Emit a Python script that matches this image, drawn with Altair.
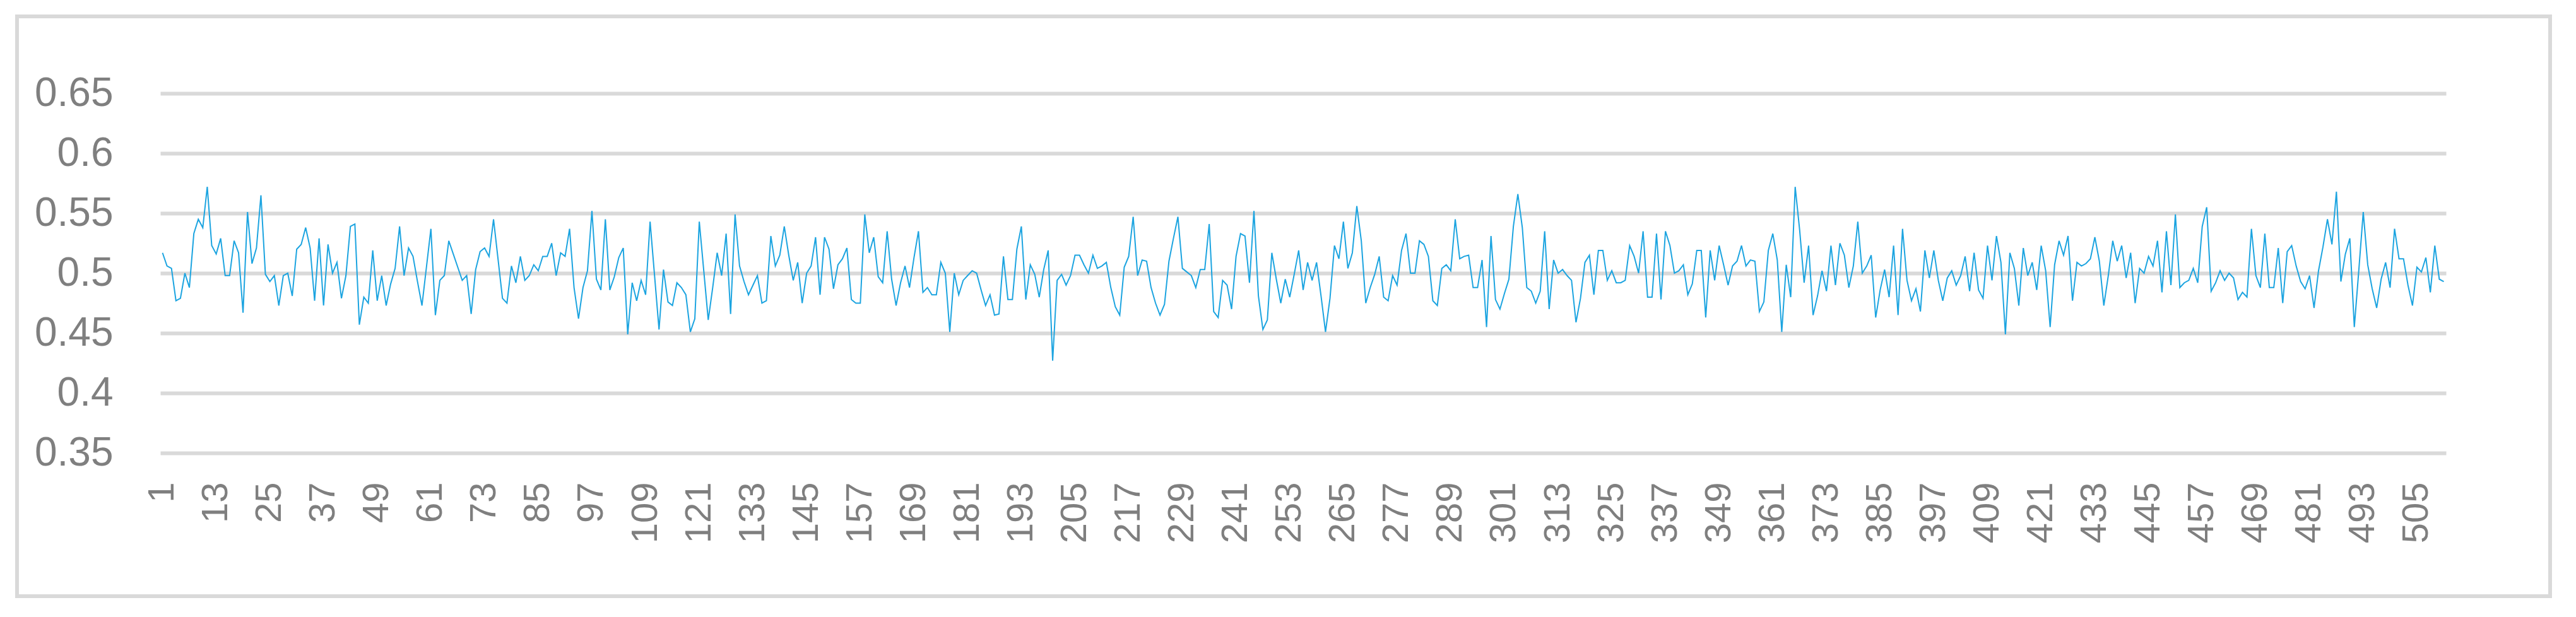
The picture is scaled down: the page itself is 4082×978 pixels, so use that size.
import altair as alt
import pandas as pd

# Series values, in order of category 1..511
vals_001_050 = [0.517, 0.506, 0.504, 0.477, 0.479, 0.500, 0.488, 0.533, 0.545, 0.538,
                0.572, 0.523, 0.516, 0.529, 0.498, 0.498, 0.527, 0.517, 0.467, 0.551,
                0.508, 0.521, 0.565, 0.499, 0.493, 0.498, 0.473, 0.498, 0.500, 0.481,
                0.520, 0.524, 0.538, 0.521, 0.477, 0.529, 0.473, 0.524, 0.500, 0.509,
                0.479, 0.498, 0.539, 0.541, 0.457, 0.480, 0.475, 0.519, 0.477, 0.498]
vals_051_100 = [0.473, 0.491, 0.504, 0.539, 0.498, 0.521, 0.514, 0.493, 0.473, 0.505,
                0.537, 0.465, 0.494, 0.498, 0.527, 0.516, 0.505, 0.494, 0.498, 0.466,
                0.503, 0.518, 0.521, 0.514, 0.545, 0.512, 0.479, 0.475, 0.506, 0.492,
                0.514, 0.494, 0.498, 0.507, 0.502, 0.514, 0.514, 0.525, 0.498, 0.517,
                0.514, 0.537, 0.488, 0.462, 0.488, 0.502, 0.552, 0.495, 0.486, 0.545]
vals_101_150 = [0.486, 0.497, 0.513, 0.521, 0.449, 0.492, 0.477, 0.494, 0.482, 0.543,
                0.498, 0.453, 0.503, 0.476, 0.473, 0.492, 0.488, 0.482, 0.451, 0.462,
                0.543, 0.502, 0.461, 0.488, 0.517, 0.498, 0.533, 0.466, 0.549, 0.506,
                0.493, 0.482, 0.490, 0.498, 0.475, 0.477, 0.531, 0.506, 0.515, 0.539,
                0.515, 0.494, 0.509, 0.475, 0.500, 0.506, 0.530, 0.482, 0.530, 0.520]
vals_151_200 = [0.487, 0.507, 0.512, 0.521, 0.478, 0.475, 0.475, 0.549, 0.517, 0.530,
                0.497, 0.492, 0.535, 0.495, 0.473, 0.492, 0.506, 0.488, 0.513, 0.535,
                0.484, 0.488, 0.482, 0.482, 0.509, 0.500, 0.451, 0.500, 0.482, 0.494,
                0.498, 0.502, 0.500, 0.486, 0.473, 0.482, 0.465, 0.466, 0.514, 0.478,
                0.478, 0.520, 0.539, 0.478, 0.507, 0.499, 0.480, 0.503, 0.519, 0.427]
vals_201_250 = [0.494, 0.499, 0.490, 0.498, 0.515, 0.515, 0.507, 0.500, 0.515, 0.504,
                0.506, 0.509, 0.488, 0.472, 0.465, 0.505, 0.514, 0.547, 0.498, 0.511,
                0.510, 0.488, 0.475, 0.465, 0.474, 0.510, 0.529, 0.547, 0.504, 0.501,
                0.498, 0.488, 0.503, 0.503, 0.541, 0.468, 0.463, 0.494, 0.490, 0.470,
                0.514, 0.533, 0.531, 0.492, 0.552, 0.481, 0.453, 0.461, 0.517, 0.495]
vals_251_300 = [0.475, 0.495, 0.480, 0.499, 0.519, 0.486, 0.509, 0.494, 0.509, 0.481,
                0.451, 0.479, 0.523, 0.512, 0.543, 0.504, 0.517, 0.556, 0.527, 0.475,
                0.488, 0.499, 0.514, 0.480, 0.477, 0.498, 0.490, 0.519, 0.533, 0.500,
                0.500, 0.527, 0.524, 0.514, 0.477, 0.473, 0.504, 0.507, 0.502, 0.545,
                0.512, 0.514, 0.515, 0.488, 0.488, 0.511, 0.455, 0.531, 0.478, 0.470]
vals_301_350 = [0.483, 0.495, 0.539, 0.566, 0.538, 0.488, 0.485, 0.475, 0.485, 0.535,
                0.470, 0.511, 0.500, 0.503, 0.498, 0.494, 0.459, 0.479, 0.509, 0.515,
                0.482, 0.519, 0.519, 0.494, 0.502, 0.492, 0.492, 0.494, 0.523, 0.514,
                0.500, 0.535, 0.480, 0.480, 0.533, 0.478, 0.535, 0.523, 0.500, 0.502,
                0.507, 0.482, 0.491, 0.519, 0.519, 0.463, 0.519, 0.494, 0.523, 0.507]
vals_351_400 = [0.490, 0.506, 0.510, 0.523, 0.506, 0.511, 0.510, 0.468, 0.476, 0.519,
                0.533, 0.511, 0.451, 0.507, 0.480, 0.572, 0.536, 0.492, 0.523, 0.465,
                0.481, 0.502, 0.485, 0.523, 0.490, 0.525, 0.515, 0.488, 0.506, 0.543,
                0.500, 0.506, 0.515, 0.463, 0.486, 0.503, 0.480, 0.523, 0.465, 0.537,
                0.494, 0.477, 0.487, 0.468, 0.519, 0.496, 0.519, 0.494, 0.477, 0.496]
vals_401_450 = [0.502, 0.490, 0.498, 0.514, 0.485, 0.517, 0.486, 0.479, 0.523, 0.494,
                0.531, 0.509, 0.449, 0.517, 0.504, 0.473, 0.521, 0.498, 0.509, 0.486,
                0.523, 0.502, 0.455, 0.507, 0.527, 0.515, 0.531, 0.477, 0.509, 0.506,
                0.508, 0.512, 0.530, 0.510, 0.473, 0.498, 0.527, 0.510, 0.523, 0.496,
                0.517, 0.475, 0.504, 0.500, 0.514, 0.506, 0.527, 0.484, 0.535, 0.490]
vals_451_511 = [0.549, 0.488, 0.492, 0.494, 0.504, 0.492, 0.539, 0.555, 0.485, 0.492,
                0.502, 0.494, 0.500, 0.496, 0.478, 0.484, 0.480, 0.537, 0.498, 0.488,
                0.533, 0.488, 0.488, 0.521, 0.475, 0.518, 0.523, 0.506, 0.493, 0.487,
                0.498, 0.471, 0.502, 0.522, 0.545, 0.524, 0.568, 0.493, 0.516, 0.529,
                0.455, 0.502, 0.551, 0.507, 0.487, 0.471, 0.495, 0.509, 0.488, 0.537,
                0.512, 0.512, 0.490, 0.473, 0.505, 0.501, 0.513, 0.484, 0.523, 0.495,
                0.493]

values = (vals_001_050 + vals_051_100 + vals_101_150 + vals_151_200 + vals_201_250
          + vals_251_300 + vals_301_350 + vals_351_400 + vals_401_450 + vals_451_511)
categories = list(range(1, len(values) + 1))
x_tick_labels = list(range(1, len(values) + 1, 12))
y_ticks = [0.35, 0.40, 0.45, 0.50, 0.55, 0.60, 0.65]

df = pd.DataFrame({"idx": categories, "val": values})

GRID = "#D9D9D9"
TEXT = "#7F7F7F"
LINE = "#1CA4E0"
FONT = "Liberation Sans"

W, H = 3622, 570

line = alt.Chart(df).mark_line(color=LINE, strokeWidth=2).encode(
    x=alt.X("idx:O", title=None,
            scale=alt.Scale(padding=0.5),
            axis=alt.Axis(values=x_tick_labels, labelAngle=-90, ticks=False,
                          domain=False, grid=False, labelOverlap=False,
                          labelFont=FONT, labelFontSize=58, labelColor=TEXT,
                          labelPadding=46)),
    y=alt.Y("val:Q", title=None,
            scale=alt.Scale(domain=[0.35, 0.65], zero=False, nice=False),
            axis=alt.Axis(values=y_ticks, labelExpr="format(datum.value, '.2~f')",
                          ticks=False, domain=False, grid=True, gridColor=GRID,
                          gridWidth=6, labelFont=FONT, labelFontSize=64,
                          labelColor=TEXT, labelPadding=75)),
)

frame = alt.Chart(pd.DataFrame({"a": [0]})).mark_rect(
    fill=None, stroke=GRID, strokeWidth=6
).encode(
    x=alt.value(-227), x2=alt.value(3787),
    y=alt.value(-122), y2=alt.value(797),
)

chart = alt.layer(line, frame).properties(
    width=W, height=H,
    autosize=alt.AutoSizeParams(type="none"),
    padding={"left": 246, "top": 140, "right": 198, "bottom": 250},
    background="white",
).configure_view(stroke=None)

chart.save("out.html", embed_options={"renderer": "svg", "actions": False})
